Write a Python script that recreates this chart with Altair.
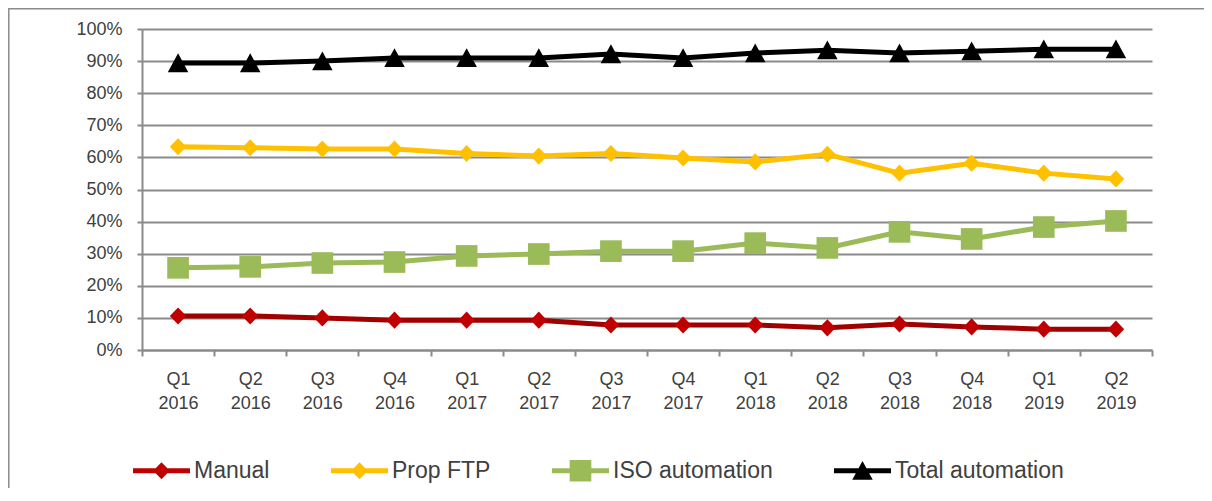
import altair as alt
import pandas as pd

quarters = ["Q1 2016", "Q2 2016", "Q3 2016", "Q4 2016",
            "Q1 2017", "Q2 2017", "Q3 2017", "Q4 2017",
            "Q1 2018", "Q2 2018", "Q3 2018", "Q4 2018",
            "Q1 2019", "Q2 2019"]
series_names = ["Manual", "Prop FTP", "ISO automation", "Total automation"]

manual = [10.6, 10.6, 10.0, 9.3, 9.3, 9.3, 7.8, 7.8, 7.8, 6.9, 8.1, 7.2, 6.5, 6.5]
prop_ftp = [63.3, 63.0, 62.6, 62.6, 61.2, 60.4, 61.2, 59.8, 58.6, 61.0, 55.1, 58.2, 55.1, 53.3]
iso_automation = [25.6, 25.9, 27.1, 27.4, 29.3, 29.9, 30.8, 30.8, 33.3, 31.8, 36.8, 34.6, 38.3, 40.2]
total_automation = [89.4, 89.4, 90.0, 91.0, 91.0, 91.0, 92.2, 91.0, 92.5, 93.4, 92.5, 93.1, 93.7, 93.7]

line_colors = ["#A00000", "#FFC000", "#9BBB59", "#000000"]
marker_colors = ["#C00000", "#FFC000", "#9BBB59", "#000000"]
marker_paths = [
    "M-0.29,0L0,-0.3L0.29,0L0,0.3Z",
    "M-0.29,0L0,-0.3L0.29,0L0,0.3Z",
    "M-0.38,-0.38L0.38,-0.38L0.38,0.38L-0.38,0.38Z",
    "M0,-0.34L0.36,0.32L-0.36,0.32Z",
]
# legend keys: a short line segment with the series marker on top
legend_line = "M-1,-0.09L1,-0.09L1,0.09L-1,0.09Z"
legend_paths = [legend_line + p for p in marker_paths]
y_ticks = list(range(0, 101, 10))

FONT = "Liberation Sans"
GRAY = "#8a8a8a"
TEXT = "#404040"
SYMBOL_SIZE = 3249

rows = []
for name, vals in zip(series_names, [manual, prop_ftp, iso_automation, total_automation]):
    for q, v in zip(quarters, vals):
        rows.append({"quarter": q, "series": name, "value": v})
df = pd.DataFrame(rows)

x = alt.X(
    "quarter:N", sort=quarters,
    scale=alt.Scale(paddingInner=0, paddingOuter=0),
    axis=alt.Axis(title=None, labelAngle=0, labelExpr="split(datum.label, ' ')",
                  labelFont=FONT, labelFontSize=18, labelColor=TEXT, labelLineHeight=24,
                  labelPadding=14, tickBand="extent", tickSize=6, tickColor=GRAY,
                  tickWidth=2, domainColor=GRAY, domainWidth=2, grid=False),
)
y = alt.Y(
    "value:Q",
    scale=alt.Scale(domain=[0, 100], nice=False, zero=True),
    axis=alt.Axis(title=None, values=y_ticks, labelExpr="datum.value + '%'",
                  labelFont=FONT, labelFontSize=18, labelColor=TEXT, labelPadding=15,
                  tickSize=5, tickColor=GRAY, tickWidth=2, domainColor=GRAY,
                  domainWidth=2, grid=True, gridColor=GRAY, gridWidth=2),
)

key_legend = alt.Legend(
    orient="none", legendX=-9, legendY=413, direction="horizontal", columns=4,
    title=None, symbolSize=SYMBOL_SIZE, symbolStrokeWidth=0,
    symbolStrokeColor="transparent", symbolOpacity=1,
    labelFont=FONT, labelFontSize=23, labelColor=TEXT, labelOffset=4,
    columnPadding=61, labelLimit=400)

base = alt.Chart(df)

lines = base.mark_line(strokeWidth=5).encode(
    x=x, y=y,
    color=alt.Color("series:N", sort=series_names,
                    scale=alt.Scale(domain=series_names, range=line_colors),
                    legend=None),
)

points = base.mark_point(filled=True, opacity=1, size=SYMBOL_SIZE).encode(
    x=x, y=y,
    color=alt.Color("series:N", sort=series_names,
                    scale=alt.Scale(domain=series_names, range=marker_colors),
                    legend=None),
    shape=alt.Shape("series:N", sort=series_names,
                    scale=alt.Scale(domain=series_names, range=marker_paths),
                    legend=None),
)

# invisible carrier layer that only provides the legend keys
keys = base.mark_point(filled=True, opacity=0, size=SYMBOL_SIZE).encode(
    x=x, y=y,
    color=alt.Color("series:N", sort=series_names,
                    scale=alt.Scale(domain=series_names, range=marker_colors),
                    legend=key_legend),
    shape=alt.Shape("series:N", sort=series_names,
                    scale=alt.Scale(domain=series_names, range=legend_paths),
                    legend=key_legend),
)

frame = alt.Chart(alt.Data(values=[{}])).mark_rect(
    fill="transparent", stroke=GRAY, strokeWidth=1.5
).encode(
    x=alt.value(-133.2), x2=alt.value(1500),
    y=alt.value(-20.3), y2=alt.value(1000),
)

chart = alt.layer(frame, lines, points, keys).resolve_scale(
    color="independent", shape="independent"
).properties(
    width=1010, height=321,
    padding={"left": 134, "top": 21, "right": 52, "bottom": 138},
    autosize=alt.AutoSizeParams(type="none"),
).configure_view(stroke=None)

chart.save("out.html", embed_options={"renderer": "svg", "actions": False})
